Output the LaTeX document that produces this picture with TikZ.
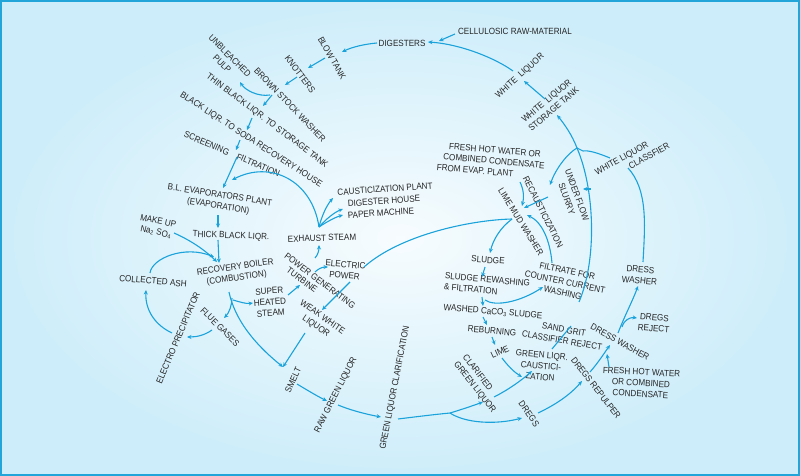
\documentclass[tikz,border=0pt]{standalone}
\usepackage{fontspec}
\setmainfont{Liberation Sans}[FakeStretch=0.9]
\usetikzlibrary{arrows.meta}
\definecolor{ln}{HTML}{1AA2DA}
\definecolor{txt}{HTML}{262626}
\definecolor{bgin}{HTML}{F7FCFE}
\definecolor{bgout}{HTML}{CDEDFA}
\definecolor{frame}{HTML}{22A5D8}
\tikzset{
  lbl/.style={font=\fontsize{9}{11}\selectfont, text=txt, inner sep=1pt, align=center},
  conn/.style={draw=ln, line width=1.1pt, -{Stealth[length=4.5pt,width=4pt]}},
  plainln/.style={draw=ln, line width=1.1pt}
}
\begin{document}
\begin{tikzpicture}[x=1pt,y=-1pt]
\useasboundingbox (0,0) rectangle (800,476);
\shade[inner color=bgin, outer color=bgout] (0,0) rectangle (800,476);
\draw[frame, line width=2pt] (1,1) rectangle (799,475);

% ---------- labels ----------
\node[lbl] (cell) at (515,31) {CELLULOSIC RAW-MATERIAL};
\node[lbl] (dig) at (402,43) {DIGESTERS};
\node[lbl,rotate=-60] (blow) at (332,58) {BLOW TANK};
\node[lbl,rotate=-53] (knot) at (300,74) {KNOTTERS};
\node[lbl,rotate=-45] (pulp) at (226,60) {UNBLEACHED\\PULP};
\node[lbl,rotate=-46] (bsw) at (290,105) {BROWN STOCK WASHER};
\node[lbl,rotate=-37] (thin) at (267,121) {THIN BLACK LIQR. TO STORAGE TANK};
\node[lbl,rotate=-33] (soda) at (251,140) {BLACK LIQR. TO SODA RECOVERY HOUSE};
\node[lbl,rotate=-23] (screen) at (232,154) {SCREENING\quad FILTRATION};
\node[lbl,rotate=-9] (evap) at (219,201) {B.L. EVAPORATORS PLANT\\(EVAPORATION)};
\node[lbl,rotate=-2] (thick) at (231,236) {THICK BLACK LIQR.};
\node[lbl,rotate=-12] (make) at (157,227) {MAKE UP\\Na\textsubscript{2} SO\textsubscript{4}};
\node[lbl,rotate=8] (boiler) at (236,273) {RECOVERY BOILER\\(COMBUSTION)};
\node[lbl,rotate=-5] (ash) at (153,281) {COLLECTED ASH};
\node[lbl,rotate=67] (esp) at (178,338) {ELECTRO PRECIPITATOR};
\node[lbl,rotate=-45] (flue) at (220,327) {FLUE GASES};
\node[lbl,rotate=4] (super) at (270,302) {SUPER\\HEATED\\STEAM};
\node[lbl,rotate=-37] (turb) at (320,281) {POWER GENERATING};
\node[lbl,rotate=-37] (turbb) at (302,280) {TURBINE};
\node[lbl,rotate=2] (exh) at (322,238) {EXHAUST STEAM};
\node[lbl,rotate=4] (caus) at (385,189) {CAUSTICIZATION PLANT};
\node[lbl,rotate=4] (dh) at (384,201) {DIGESTER HOUSE};
\node[lbl,rotate=4] (pm) at (381,213) {PAPER MACHINE};
\node[lbl,rotate=-5] (elec) at (345,270) {ELECTRIC\\POWER};
\node[lbl,rotate=-35] (weak) at (319,322) {WEAK WHITE\\LIQUOR};
\node[lbl,rotate=65] (smelt) at (293,380) {SMELT};
\node[lbl,rotate=63] (raw) at (336,395) {RAW GREEN LIQUOR};
\node[lbl,rotate=79] (glc) at (395,388) {GREEN LIQUOR CLARIFICATION};
\node[lbl,rotate=-52,align=left] (clar) at (479,384) {CLARIFIED\\GREEN LIQUOR};
\node[lbl,rotate=-55] (dregs) at (529,414) {DREGS};
\node[lbl,rotate=25] (lime) at (500,352) {LIME};
\node[lbl,rotate=-5] (glcaus) at (541,366) {GREEN LIQR.\\CAUSTICI-\\ZATION};
\node[lbl,rotate=-5] (reburn) at (492,331) {REBURNING};
\node[lbl,rotate=-5] (washed) at (493,312) {WASHED CaCO\textsubscript{3} SLUDGE};
\node[lbl,rotate=-5,align=left] (srw) at (487,285) {SLUDGE REWASHING\\\& FILTRATION};
\node[lbl,rotate=-4] (sludge) at (488,260) {SLUDGE};
\node[lbl,rotate=-12] (filt) at (565,282) {FILTRATE FOR\\COUNTER CURRENT\\WASHING};
\node[lbl,rotate=-10] (sand) at (563,335) {SAND GRIT\\CLASSIFIER REJECT};
\node[lbl,rotate=-58] (lmw) at (521,222) {LIME MUD WASHER};
\node[lbl,rotate=-63] (recaus) at (543,212) {RECAUSTICIZATION};
\node[lbl,rotate=-5] (freshA) at (494,161) {FRESH HOT WATER OR\\COMBINED CONDENSATE\\FROM EVAP. PLANT\hspace*{36pt}};
\node[lbl,rotate=-70] (ufs) at (572,197) {UNDER FLOW\\SLURRY};
\node[lbl,rotate=29] (wlc) at (622,159) {WHITE LIQUOR};
\node[lbl,rotate=29] (wlcb) at (649,156) {CLASSFIER};
\node[lbl,rotate=40] (wlst) at (550,105) {WHITE\enspace LIQUOR\\STORAGE TANK};
\node[lbl,rotate=42] (wl) at (520,76) {WHITE\enspace LIQUOR};
\node[lbl,rotate=-5] (dwA) at (640,275) {DRESS\\WASHER};
\node[lbl,rotate=-5] (drej) at (654,323) {DREGS\\REJECT};
\node[lbl,rotate=-29] (dwB) at (620,342) {DRESS WASHER};
\node[lbl,rotate=-3] (freshB) at (641,383) {FRESH HOT WATER\\OR COMBINED\\CONDENSATE};
\node[lbl,rotate=-52] (rep) at (596,388) {DREGS REPULPER};

% ---------- connector end points ----------
\coordinate (J) at (577,148);
\coordinate (boilerS) at (229,292);
\coordinate (exhN) at (319,227);
\coordinate (lmwN) at (512,219);
\coordinate (clarJ) at (450,413);
\coordinate (smeltN) at (283,367);

% ---------- connectors: top / right ----------
\draw[conn] (cell.west) ++(-2,3) coordinate (cellA) -- (439,41) coordinate (digE);
\draw[conn] (wl.center) ++(-7,-5) coordinate (wlA) .. controls (495,58) and (460,44) .. (428,42) coordinate (digE2);
\draw[conn] (wlst.center) ++(-5,-6) coordinate (wlstA) -- (524,81) coordinate (wlB);
\draw[conn] (J) .. controls (572,135) and (565,125) .. (557,115) coordinate (wlstB);
\draw[conn] (J) .. controls (568,153) and (556,168) .. (550,185) coordinate (recA);
\draw[plainln] (610,158) coordinate (wlcA) .. controls (598,153) and (588,150) .. (583,151) -- (J);
\draw[plainln] (J) .. controls (595,190) and (597,260) .. (579,302) coordinate (sandA);
\draw[plainln] (571,326) coordinate (sandB) -- (552,349) coordinate (glcausA);
\draw[conn] (591,189) coordinate (ufsA) -- (583,189) coordinate (ufsB);
\draw[conn] (548,197) coordinate (ufsC) -- (524,208) coordinate (lmwA);
\draw[conn] (520,182) coordinate (freshAS) .. controls (524,190) and (524,198) .. (522,206) coordinate (lmwB);
\draw[conn] (552,263) coordinate (filtN) .. controls (550,240) and (542,222) .. (527,215) coordinate (lmwC);
\draw[conn] (lmwN) .. controls (500,228) and (493,240) .. (490,253) coordinate (sludgeN);
\draw[plainln] (lmwN) .. controls (470,220) and (400,235) .. (364,267) coordinate (elecE);
\draw[conn] (350,282) coordinate (elecS) -- (322,310) coordinate (weakN);
\draw[conn] (305,333) coordinate (weakS) -- (smeltN);
\draw[conn] (485,267) coordinate (sludgeS) -- (482,277) coordinate (srwN);
\draw[conn] (482,297) coordinate (srwS) -- (483,306) coordinate (washedN);
\draw[conn] (483,317) coordinate (washedS) -- (487,325) coordinate (reburnN);
\draw[conn] (492,337) coordinate (reburnS) -- (495,345) coordinate (limeN);
\draw[conn] (485,300) coordinate (srwB) .. controls (495,307) and (520,302) .. (543,287) coordinate (filtW);

% ---------- bottom loop ----------
\draw[conn] (boilerS) .. controls (236,325) and (262,350) .. (smeltN);
\draw[conn] (297,384) coordinate (smeltS) .. controls (307,390) and (317,396) .. (327,401) coordinate (rawN);
\draw[conn] (338,405) coordinate (rawS) .. controls (350,410) and (365,414) .. (381,417) coordinate (glcW);
\draw[conn] (398,419) coordinate (glcE) .. controls (430,415) and (440,414) .. (clarJ) .. controls (460,410) and (472,406) .. (483,402) coordinate (clarW);
\draw[conn] (clarJ) .. controls (465,423) and (495,425) .. (522,418) coordinate (dregsW);
\draw[conn] (494,397) coordinate (clarN) .. controls (508,390) and (522,380) .. (532,371) coordinate (glcausW);
\draw[conn] (502,358) coordinate (limeS) .. controls (508,366) and (514,372) .. (522,377) coordinate (glcausB);
\draw[conn] (538,413) coordinate (dregsE) .. controls (555,405) and (570,395) .. (582,381) coordinate (repW);
\draw[conn] (590,372) coordinate (repN) .. controls (598,363) and (605,352) .. (610,345) coordinate (dwBW);
\draw[conn] (609,367) coordinate (freshBN) -- (607,354) coordinate (dwBS);
\draw[conn] (622,327) coordinate (dwBN) .. controls (624,320) and (630,317) .. (637,318) coordinate (drejW);
\draw[conn] (618,333) coordinate (dwBC) .. controls (625,315) and (633,300) .. (638,286) coordinate (dwAS);
\draw[plainln] (643,262) coordinate (dwAN) .. controls (645,225) and (648,190) .. (628,168) coordinate (wlcS);

% ---------- left side ----------
\draw[conn] (377,43) coordinate (digW) .. controls (365,44) and (352,47) .. (342,52) coordinate (blowN);
\draw[conn] (325,58) coordinate (blowS) -- (308,68) coordinate (knotN);
\draw[conn] (297,77) coordinate (knotS) -- (285,85) coordinate (bswN);
\draw[conn] (270,95) coordinate (bswW) .. controls (258,97) and (245,90) .. (240,82) coordinate (pulpS);
\draw[conn] (272,95) coordinate (bswS) -- (263,106) coordinate (thinN);
\draw[conn] (252,118) coordinate (thinS) -- (247,130) coordinate (sodaN);
\draw[conn] (240,140) coordinate (sodaS) -- (236,150) coordinate (screenN);
\draw[conn] (237,157) coordinate (screenS) -- (223,188) coordinate (evapN);
\draw[conn] (218,215) coordinate (evapS) -- (218,228) coordinate (thickN);
\draw[conn] (218,240) coordinate (thickS) -- (219,263) coordinate (boilerN);
\draw[conn] (174,233) coordinate (makeE) .. controls (190,240) and (205,250) .. (217,262) coordinate (boilerW);
\draw[conn] (150,273) coordinate (ashN) .. controls (152,258) and (185,245) .. (214,257) coordinate (boilerW2);
\draw[conn] (172,333) coordinate (espN) .. controls (155,325) and (145,310) .. (146,290) coordinate (ashS);
\draw[conn] (212,330) coordinate (flueW) .. controls (205,335) and (197,337) .. (187,337) coordinate (espE);
\draw[conn] (232,298) coordinate (boilerB) .. controls (232,305) and (229,313) .. (224,318) coordinate (flueN);
\draw[conn] (233,300) coordinate (boilerC) .. controls (240,302) and (246,304) .. (253,303) coordinate (superW);
\draw[conn] (288,295) coordinate (superE) -- (300,285) coordinate (turbW);
\draw[conn] (315,272) coordinate (turbE) .. controls (318,269) and (322,267) .. (328,267) coordinate (elecW);
\draw[conn] (315,258) coordinate (turbN) .. controls (318,255) and (319,250) .. (319,245) coordinate (exhS);
\draw[conn] (exhN) .. controls (322,215) and (327,205) .. (333,198) coordinate (causW);
\draw[conn] (exhN) .. controls (327,218) and (335,212) .. (343,209) coordinate (dhW);
\draw[conn] (exhN) .. controls (328,221) and (336,217) .. (343,215) coordinate (pmW);
\draw[conn] (exhN) .. controls (312,180) and (270,160) .. (232,180) coordinate (evapE);
\end{tikzpicture}
\end{document}
